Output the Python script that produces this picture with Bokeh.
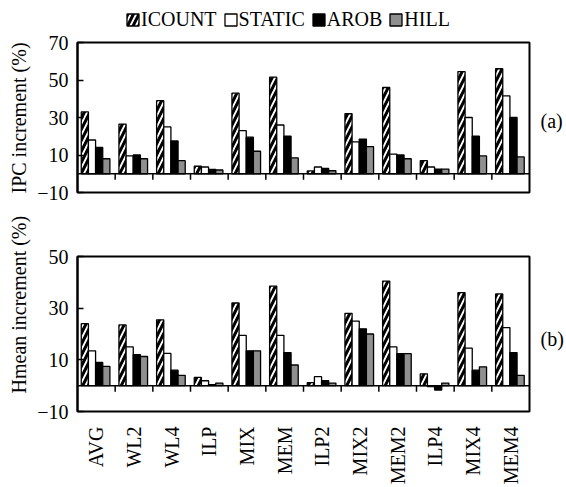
import numpy as np
from bokeh.plotting import figure
from bokeh.layouts import column
from bokeh.models import (ColumnDataSource, Range1d, FixedTicker, Legend, LegendItem,
                          Span, Title, LinearAxis)
from bokeh.transform import dodge
from bokeh.embed import file_html
from bokeh.resources import INLINE

# ---------------- data ----------------
categories = ["AVG", "WL2", "WL4", "ILP", "MIX", "MEM", "ILP2", "MIX2", "MEM2", "ILP4", "MIX4", "MEM4"]
series = ["ICOUNT", "STATIC", "AROB", "HILL"]

ipc_icount = [33, 26.5, 39, 4, 43, 51.5, 1.5, 32, 46, 7, 54.5, 56]
ipc_static = [18, 9.5, 25, 3.6, 23, 26, 3.6, 17, 10.5, 3.6, 30, 41.5]
ipc_arob = [14, 10, 17.5, 2.3, 19.5, 20, 2.8, 18.5, 10, 2.4, 20, 30]
ipc_hill = [8, 8, 7, 2, 12, 8.5, 1.6, 14.5, 8, 2.5, 9.5, 9]

hm_icount = [24, 23.5, 25.5, 3.2, 32, 38.5, 1.2, 28, 40.5, 4.6, 36, 35.5]
hm_static = [13.5, 15, 12.5, 1.9, 19.5, 19.5, 3.5, 25, 15, -0.4, 14.5, 22.5]
hm_arob = [9, 12, 6, 0.4, 13.5, 12.8, 1.9, 22, 12.4, -1.7, 6, 12.8]
hm_hill = [7.5, 11.3, 4, 1, 13.5, 8, 1, 20, 12.4, 1, 7.3, 4]

ipc_ticks = [-10, 10, 30, 50, 70]
hm_ticks = [-10, 10, 30, 50]

FONT = "Liberation Serif"
FS = "20px"
W = 566
LB, RB = 77, 33
offsets = [-0.305, -0.115, 0.075, 0.265]
BAR_W = 0.19
styles = {
    "ICOUNT": dict(fill_color="white", hatch_pattern="/", hatch_color="black",
                   hatch_weight=3, hatch_scale=11),
    "STATIC": dict(fill_color="white"),
    "AROB": dict(fill_color="black"),
    "HILL": dict(fill_color="#8f8f8f"),
}

ipc_vals = dict(ICOUNT=ipc_icount, STATIC=ipc_static, AROB=ipc_arob, HILL=ipc_hill)
hm_vals = dict(ICOUNT=hm_icount, STATIC=hm_static, AROB=hm_arob, HILL=hm_hill)


def make_source(vals):
    data = dict(xc=np.arange(len(categories)) + 0.5)
    data.update(vals)
    return ColumnDataSource(data)


def make_panel(vals, yr, ticks, ylabel, ylabel_off, tag, tag_y, height, top, bottom,
               frame_h, show_x):
    n = len(categories)
    src = make_source(vals)
    p = figure(width=W, height=height, x_range=Range1d(0, n), y_range=Range1d(*yr),
               output_backend="svg", toolbar_location=None,
               min_border_left=LB, min_border_right=RB,
               min_border_top=top, min_border_bottom=bottom)
    p.background_fill_color = "white"
    p.border_fill_color = "white"
    p.outline_line_color = "black"
    p.outline_line_width = 2
    p.outline_line_alpha = 1
    p.grid.visible = False

    for s, off in zip(series, offsets):
        p.vbar(x=dodge("xc", off), top=s, bottom=0, width=BAR_W, source=src,
               line_color="black", line_width=1.3, **styles[s])

    # zero line and group-boundary ticks
    p.add_layout(Span(location=0, dimension="width", line_color="black", line_width=1.5))
    ppu = frame_h / (yr[1] - yr[0])
    bounds = np.arange(1, n)
    p.segment(x0=bounds, x1=bounds, y0=0, y1=-6.0 / ppu, line_color="black", line_width=1.5)

    yax = p.yaxis[0]
    yax.ticker = FixedTicker(ticks=ticks)
    yax.major_label_overrides = {-10: "\u221210"}
    yax.major_tick_in = 6
    yax.major_tick_out = 0
    yax.minor_tick_line_color = None
    yax.major_tick_line_color = "black"
    yax.major_tick_line_width = 1.5
    yax.axis_line_color = "black"
    yax.axis_line_width = 2
    yax.major_label_text_font = FONT
    yax.major_label_text_font_size = FS
    yax.major_label_text_color = "black"
    yax.major_label_standoff = 9

    xax = p.xaxis[0]
    if show_x:
        xax.ticker = FixedTicker(ticks=list(np.arange(n) + 0.5))
        xax.major_label_overrides = {float(i) + 0.5: c for i, c in enumerate(categories)}
        xax.major_label_orientation = np.pi / 2
        xax.major_label_text_font = FONT
        xax.major_label_text_font_size = FS
        xax.major_label_text_color = "black"
        xax.major_label_standoff = 9
        xax.axis_line_color = None
        xax.major_tick_line_color = None
        xax.minor_tick_line_color = None
    else:
        xax.visible = False

    # panel tag on the right, as a one-tick axis
    rax = LinearAxis(ticker=FixedTicker(ticks=[tag_y]), major_label_overrides={tag_y: tag},
                     axis_line_color=None, major_tick_line_color=None,
                     minor_tick_line_color=None, major_label_standoff=5,
                     major_label_text_font=FONT, major_label_text_font_size=FS,
                     major_label_text_color="black")
    p.add_layout(rax, "right")

    p.add_layout(Title(text=ylabel, align="left", offset=ylabel_off, text_font=FONT,
                       text_font_size=FS, text_font_style="normal", text_color="black",
                       standoff=10), "left")
    return p


p1 = make_panel(ipc_vals, (-10, 70), ipc_ticks, "IPC increment (%)", -1, "(a)", 28,
                171, 11, 10, 150, False)
p2 = make_panel(hm_vals, (-10, 50), hm_ticks, "Hmean increment (%)", 18, "(b)", 18,
                285, 54, 75, 156, True)

# legend strip on top (its bars are hidden; only the legend is shown)
pl = figure(width=W, height=31, x_range=Range1d(0, 1), y_range=Range1d(0, 1),
            output_backend="svg", toolbar_location=None,
            min_border_left=LB, min_border_right=RB, min_border_top=0, min_border_bottom=0)
pl.axis.visible = False
pl.grid.visible = False
pl.outline_line_color = None
lsrc = make_source(ipc_vals)
items = []
for s in series:
    r = pl.vbar(x="xc", top=s, width=BAR_W, source=lsrc, line_color="black",
                line_width=1.3, visible=False, **styles[s])
    items.append(LegendItem(label=s, renderers=[r]))
legend = Legend(items=items, orientation="horizontal", location=(48, 0),
                glyph_width=15, glyph_height=15, label_standoff=1, spacing=6,
                padding=0, margin=0, label_height=15, inactive_fill_alpha=0,
                border_line_color=None, background_fill_alpha=0,
                label_text_font=FONT, label_text_font_size=FS, label_text_color="black")
pl.add_layout(legend, "center")

layout = column(pl, p1, p2, spacing=0)

with open("out.html", "w") as f:
    f.write(file_html(layout, INLINE))
